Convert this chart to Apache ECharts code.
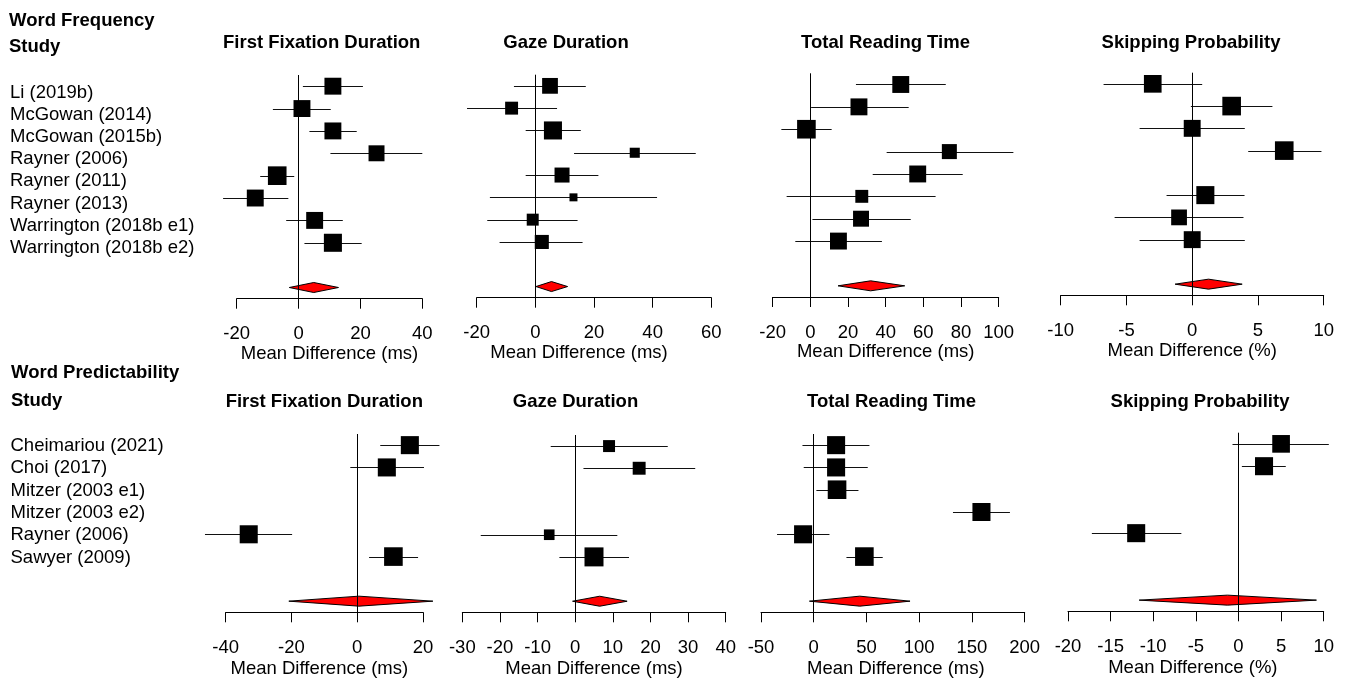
<!DOCTYPE html>
<html><head><meta charset="utf-8">
<script src="https://cdn.jsdelivr.net/npm/echarts@6/dist/echarts.min.js"></script>
<style>html,body{margin:0;padding:0;background:#fff}#c{width:1347px;height:679px}</style>
</head><body><div id="c"></div>
<script>
// ---------------- DATA ----------------
const freqStudies = ["Li (2019b)", "McGowan (2014)", "McGowan (2015b)", "Rayner (2006)",
  "Rayner (2011)", "Rayner (2013)", "Warrington (2018b e1)", "Warrington (2018b e2)"];
const predStudies = ["Cheimariou (2021)", "Choi (2017)", "Mitzer (2003 e1)", "Mitzer (2003 e2)",
  "Rayner (2006)", "Sawyer (2009)"];
const measures = ["First Fixation Duration", "Gaze Duration", "Total Reading Time", "Skipping Probability"];
const axisTitles = ["Mean Difference (ms)", "Mean Difference (ms)", "Mean Difference (ms)", "Mean Difference (%)"];

// Word frequency effects (mean difference, lower CI, upper CI, relative box size)
const freqFFDMean = [11.1, 1.1, 11.1, 25.2, -6.9, -14.0, 5.2, 11.1];
const freqFFDLow  = [1.4, -8.3, 3.5, 10.3, -12.4, -24.4, -4.0, 1.9];
const freqFFDHigh = [20.8, 10.4, 18.8, 40.0, -1.4, -3.3, 14.3, 20.4];
const freqFFDBox  = [0.89, 0.89, 0.89, 0.84, 0.98, 0.89, 0.89, 0.95];

const freqGDMean = [5.0, -8.1, 6.0, 33.9, 9.1, 13.0, -0.9, 2.2];
const freqGDLow  = [-7.3, -23.3, -3.3, 13.2, -3.3, -15.5, -16.4, -12.2];
const freqGDHigh = [17.2, 7.4, 15.5, 54.7, 21.5, 41.5, 14.4, 16.1];
const freqGDBox  = [0.83, 0.68, 0.95, 0.53, 0.79, 0.42, 0.63, 0.74];

const freqTRTMean = [48.0, 25.8, -2.1, 73.8, 57.0, 27.3, 26.9, 14.9];
const freqTRTLow  = [24.2, 0.4, -15.4, 40.5, 33.1, -12.6, 1.1, -8.0];
const freqTRTHigh = [71.9, 52.2, 11.3, 107.8, 80.9, 66.5, 53.3, 38.0];
const freqTRTBox  = [0.89, 0.89, 0.98, 0.79, 0.89, 0.68, 0.84, 0.89];

const freqSKPMean = [-3.0, 3.0, 0.0, 7.0, null, 1.0, -1.0, 0.0];
const freqSKPLow  = [-6.74, -0.1, -4.0, 4.26, null, -1.95, -5.9, -4.0];
const freqSKPHigh = [0.76, 6.1, 4.0, 9.83, null, 3.98, 3.9, 4.0];
const freqSKPBox  = [0.93, 0.98, 0.89, 0.98, null, 0.95, 0.83, 0.89];

// pooled estimates [mean, low, high] per measure
const freqPooledMean = [4.9, 5.5, 32.0, 1.24];
const freqPooledLow  = [-3.0, 0.2, 14.7, -1.3];
const freqPooledHigh = [12.9, 11.0, 50.1, 3.8];

// Word predictability effects
const predFFDMean = [16.0, 9.0, null, null, -33.0, 11.0];
const predFFDLow  = [7.0, -2.1, null, null, -46.3, 3.6];
const predFFDHigh = [25.0, 20.3, null, null, -19.8, 18.5];
const predFFDBox  = [0.95, 0.95, null, null, 0.95, 0.98];

const predGDMean = [9.0, 17.0, null, null, -6.9, 5.0];
const predGDLow  = [-6.5, 2.2, null, null, -25.1, -4.2];
const predGDHigh = [24.6, 31.9, null, null, 11.2, 14.3];
const predGDBox  = [0.63, 0.68, null, null, 0.56, 1.0];

const predTRTMean = [21.2, 21.2, 22.1, 159.0, -10.1, 48.0];
const predTRTLow  = [-10.7, -9.5, 2.5, 132.0, -34.8, 31.0];
const predTRTHigh = [52.8, 51.2, 42.4, 186.0, 14.9, 65.4];
const predTRTBox  = [0.95, 0.95, 0.98, 0.95, 0.95, 0.98];

const predSKPMean = [5.0, 3.0, null, null, -12.0, null];
const predSKPLow  = [-0.7, 0.4, null, null, -17.2, null];
const predSKPHigh = [10.6, 5.55, null, null, -6.7, null];
const predSKPBox  = [0.93, 0.95, null, null, 0.95, null];

const predPooledMean = [0.5, 6.5, 43.6, -1.3];
const predPooledLow  = [-20.8, -0.7, -4.1, -11.65];
const predPooledHigh = [23.0, 13.8, 91.3, 9.15];

// axis ticks (min, max, step)
const freqTicks = [[-20, 40, 20], [-20, 60, 20], [-20, 100, 20], [-10, 10, 5]];
const predTicks = [[-40, 20, 20], [-30, 40, 10], [-50, 200, 50], [-20, 10, 5]];

// ---------------- LAYOUT ----------------
const FONT = '"Liberation Sans", Arial, Helvetica, sans-serif';
const FS = 18.5;
const BOX = 19;      // px for a box of relative size 1
const DIAM_H = 5;    // half-height of pooled diamond in px

const freqRows = { n: 10, pooledRow: 9.5 };
const predRows = { n: 8, pooledRow: 7.5 };

const freqGrids = [
  { left: 236.7, right: 422.3, top: 75.0, bottom: 298.7 },
  { left: 476.7, right: 711.3, top: 74.7, bottom: 297.7 },
  { left: 772.7, right: 998.7, top: 73.3, bottom: 297.0 },
  { left: 1060.7, right: 1323.7, top: 72.7, bottom: 295.3 }
];
const predGrids = [
  { left: 225.7, right: 423.0, top: 434.0, bottom: 612.3 },
  { left: 462.3, right: 725.7, top: 435.0, bottom: 612.3 },
  { left: 761.0, right: 1024.7, top: 434.0, bottom: 612.7 },
  { left: 1068.0, right: 1323.7, top: 432.7, bottom: 611.3 }
];
const freqNameShift = [0, -15, 0, 0];
const predNameShift = [-5, 0, 3, -3];
const freqNameGap = [42, 42, 42, 46];
const predNameGap = [46.7, 46.7, 46.7, 47.5];

const freqPanels = [
  [freqFFDMean, freqFFDLow, freqFFDHigh, freqFFDBox],
  [freqGDMean, freqGDLow, freqGDHigh, freqGDBox],
  [freqTRTMean, freqTRTLow, freqTRTHigh, freqTRTBox],
  [freqSKPMean, freqSKPLow, freqSKPHigh, freqSKPBox]
];
const predPanels = [
  [predFFDMean, predFFDLow, predFFDHigh, predFFDBox],
  [predGDMean, predGDLow, predGDHigh, predGDBox],
  [predTRTMean, predTRTLow, predTRTHigh, predTRTBox],
  [predSKPMean, predSKPLow, predSKPHigh, predSKPBox]
];

const W = 1347, H = 679;
const grid = [], xAxis = [], yAxis = [], series = [];

function renderStudy(params, api) {
  const m = api.value(0), lo = api.value(1), hi = api.value(2), row = api.value(3), b = api.value(4);
  const pl = api.coord([lo, row]), ph = api.coord([hi, row]), pm = api.coord([m, row]);
  const s = b * BOX;
  const y = Math.round(pm[1]) + 0.5;
  return { type: 'group', children: [
    { type: 'line', shape: { x1: pl[0], y1: y, x2: ph[0], y2: y }, style: { stroke: '#111', lineWidth: 1 } },
    { type: 'rect', shape: { x: pm[0] - s / 2, y: pm[1] - s / 2, width: s, height: s }, style: { fill: '#000' } }
  ]};
}
function renderPooled(params, api) {
  const m = api.value(0), lo = api.value(1), hi = api.value(2), row = api.value(3);
  const pl = api.coord([lo, row]), ph = api.coord([hi, row]), pm = api.coord([m, row]);
  return { type: 'polygon', shape: { points: [[pl[0], pl[1]], [pm[0], pm[1] - DIAM_H], [ph[0], ph[1]], [pm[0], pm[1] + DIAM_H]] },
    style: { fill: '#ff0000', stroke: '#000', lineWidth: 1 } };
}

function addBlock(panels, grids, ticks, rows, nameShift, labelMargin, nameGaps) {
  panels.forEach((p, k) => {
    const g = grids[k];
    const gi = grid.length;
    grid.push({ left: g.left, top: g.top, width: g.right - g.left, height: g.bottom - g.top, containLabel: false });
    const t = ticks[k];
    const sh = nameShift[k];
    xAxis.push({
      gridIndex: gi, type: 'value', min: t[0], max: t[1], interval: t[2],
      axisLine: { show: true, onZero: false, lineStyle: { color: '#000', width: 1 } },
      axisTick: { show: true, length: 10, inside: false, lineStyle: { color: '#000', width: 1 } },
      axisLabel: { show: true, margin: labelMargin, fontSize: FS, color: '#000', fontFamily: FONT, showMinLabel: true, showMaxLabel: true },
      splitLine: { show: false },
      name: axisTitles[k], nameLocation: 'middle', nameGap: nameGaps[k],
      nameTextStyle: { fontSize: FS, color: '#000', fontFamily: FONT,
        padding: sh < 0 ? [0, -2 * sh, 0, 0] : [0, 0, 0, 2 * sh] }
    });
    yAxis.push({ gridIndex: gi, type: 'value', min: 0, max: rows.n, inverse: true, show: false });
    const data = [];
    p[0].forEach((m, i) => {
      if (m === null) return;
      data.push([m, p[1][i], p[2][i], i + 0.5, p[3][i]]);
    });
    series.push({
      type: 'custom', xAxisIndex: gi, yAxisIndex: gi, clip: false, silent: true,
      renderItem: renderStudy, data: data,
      markLine: { silent: true, symbol: 'none', animation: false, label: { show: false },
        lineStyle: { color: '#000', width: 1, type: 'solid' }, data: [{ xAxis: 0 }] }
    });
  });
}
addBlock(freqPanels, freqGrids, freqTicks, freqRows, freqNameShift, 26, freqNameGap);
addBlock(predPanels, predGrids, predTicks, predRows, predNameShift, 26, predNameGap);

// pooled diamonds
function addPooled(means, lows, highs, rows, offset) {
  means.forEach((m, k) => {
    series.push({
      type: 'custom', xAxisIndex: offset + k, yAxisIndex: offset + k, clip: false, silent: true,
      renderItem: renderPooled, data: [[m, lows[k], highs[k], rows.pooledRow]]
    });
  });
}
addPooled(freqPooledMean, freqPooledLow, freqPooledHigh, freqRows, 0);
addPooled(predPooledMean, predPooledLow, predPooledHigh, predRows, 4);

// texts
const graphic = [];
function txt(text, x, y, bold, align) {
  graphic.push({ type: 'text', x: x, y: y, silent: true,
    style: { text: text, fontSize: FS, fontWeight: bold ? 'bold' : 'normal', fontFamily: FONT,
      fill: '#000', align: align || 'left', verticalAlign: 'middle' } });
}
txt('Word Frequency', 9, 20.7, true);
txt('Study', 9, 46.7, true);
txt('Word Predictability', 11, 372.7, true);
txt('Study', 11, 400.7, true);
const freqTitleX = [321.7, 566, 885.5, 1191];
const predTitleX = [324.3, 575.5, 891.5, 1200];
measures.forEach((m, k) => { txt(m, freqTitleX[k], 43.3, true, 'center'); txt(m, predTitleX[k], 401.7, true, 'center'); });
freqStudies.forEach((s, i) => txt(s, 10, 92.5 + 22.2 * i, false));
predStudies.forEach((s, i) => txt(s, 10.5, 446 + 22.3 * i, false));

const chart = echarts.init(document.getElementById('c'), null, { renderer: 'canvas', width: W, height: H });
chart.setOption({
  animation: false,
  backgroundColor: '#fff',
  textStyle: { fontFamily: FONT },
  grid: grid, xAxis: xAxis, yAxis: yAxis, series: series, graphic: graphic
});
</script></body></html>
